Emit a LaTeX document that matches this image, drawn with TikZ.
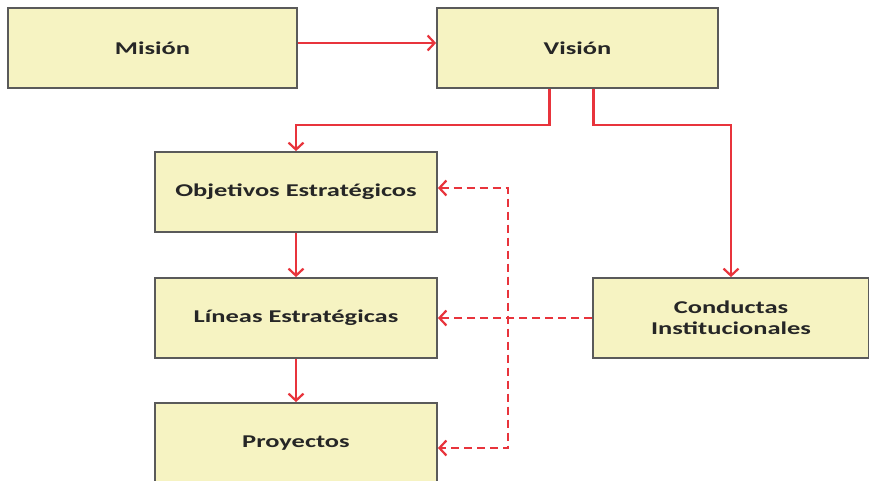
\documentclass[tikz,border=0pt]{standalone}
\usepackage{fontspec}
\setmainfont{Carlito}[FakeStretch=1.47]
\usetikzlibrary{arrows.meta}
\definecolor{boxfill}{HTML}{F6F3C2}
\definecolor{boxline}{HTML}{5A5A5A}
\definecolor{linkred}{HTML}{E8343C}
\begin{document}
\begin{tikzpicture}[x=1pt,y=-1pt,
  box/.style={draw=boxline,line width=1.8pt,fill=boxfill,inner sep=0pt,
    font=\fontsize{18}{21}\selectfont\bfseries,text=black!85,align=center},
  tip/.tip={Straight Barb[length=7pt,width=15pt,line width=2.2pt]},
  link/.style={draw=linkred,line width=2.2pt,-tip},
  dlink/.style={link,dash pattern=on 8pt off 5pt}]
\clip (0,0) rectangle (869,481);
\fill[white] (0,0) rectangle (869,481);
\node[box,minimum width=289pt,minimum height=80pt] (mision) at (152.5,48) {Misión};
\node[box,minimum width=281pt,minimum height=80pt] (vision) at (577.5,48) {Visión};
\node[box,minimum width=282pt,minimum height=80pt] (obj) at (296,192) {Objetivos Estratégicos};
\node[box,minimum width=282pt,minimum height=80pt] (lin) at (296,318) {Líneas Estratégicas};
\node[box,minimum width=282pt,minimum height=80pt] (proy) at (296,443) {Proyectos};
\node[box,minimum width=276pt,minimum height=80pt] (cond) at (731,318) {Conductas\\Institucionales};
\coordinate (j1) at (0,125);
\coordinate (dx) at (508,0);
\coordinate (oe) at ([yshift=4pt]obj.east);
\coordinate (pe) at ([yshift=-5pt]proy.east);
\draw[link] ([yshift=5pt]mision.east) -- ([yshift=5pt]vision.west);
\draw[link] ([xshift=-28pt]vision.south) -- ([xshift=-28pt]vision.south |- j1) -| (obj.north);
\draw[link] ([xshift=16pt]vision.south) -- ([xshift=16pt]vision.south |- j1) -| (cond.north);
\draw[link] (obj.south) -- (lin.north);
\draw[link] (lin.south) -- (proy.north);
\draw[dlink] (cond.west) -- (lin.east);
\draw[dlink,tip-tip] (oe) -- (dx |- oe) -- (dx |- pe) -- (pe);
\end{tikzpicture}
\end{document}
